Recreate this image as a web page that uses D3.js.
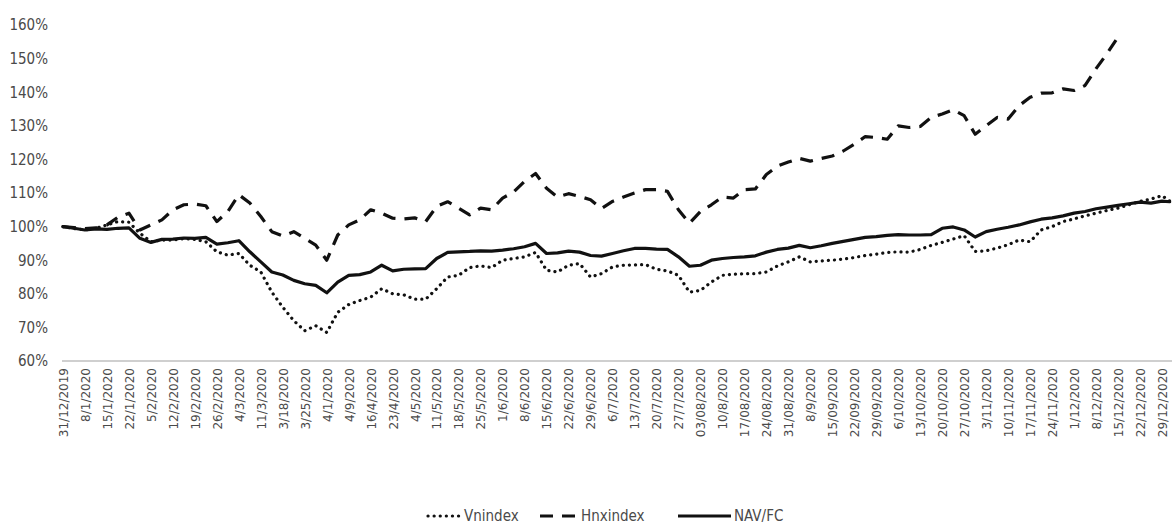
<!DOCTYPE html>
<html>
<head>
<meta charset="utf-8">
<script src="https://cdn.jsdelivr.net/npm/d3@7"></script>
<style>
  body { margin: 0; background: #fff; }
  svg { display: block; }
</style>
</head>
<body>
<svg id="chart" width="1172" height="528"></svg>
<script>
// weekly category labels on the x axis (one every 5 trading days)
let dateLabels = ["31/12/2019","8/1/2020","15/1/2020","22/1/2020","5/2/2020","12/2/2020","19/2/2020","26/2/2020",
  "4/3/2020","11/3/2020","3/18/2020","3/25/2020","4/1/2020","4/9/2020","16/4/2020","23/4/2020","4/5/2020",
  "11/5/2020","18/5/2020","25/5/2020","1/6/2020","8/6/2020","15/6/2020","22/6/2020","29/6/2020","6/7/2020",
  "13/7/2020","20/7/2020","27/7/2020","03/08/2020","10/8/2020","17/08/2020","24/08/2020","31/08/2020","8/9/2020",
  "15/09/2020","22/09/2020","29/09/2020","6/10/2020","13/10/2020","20/10/2020","27/10/2020","3/11/2020",
  "10/11/2020","17/11/2020","24/11/2020","1/12/2020","8/12/2020","15/12/2020","22/12/2020","29/12/2020"];

let yTicks = [60,70,80,90,100,110,120,130,140,150,160];

// values in %, read every half week (0.5 label step), last point is the final session
let vnindex = [100,99.4,99,99.5,100.5,101.5,101.3,98,95.5,96,
  96,96.4,96.2,95.5,92.5,91.5,92,88.5,86.5,80.5,
  76,72,69,70.5,68.5,74.5,76.8,78,79,81.5,
  80,79.7,78.4,78.4,81.5,85,85.5,87.8,88.3,87.8,
  90,90.5,91,92.3,87,86.5,88.5,89,85,86,
  88,88.5,88.6,88.7,87.3,86.8,85.5,80.5,81,83.5,
  85.5,85.8,86,86,86.5,88.3,89.5,91,89.5,89.8,
  90,90.3,90.8,91.4,91.8,92.3,92.5,92.4,93.2,94.4,
  95.3,96.3,97.3,92.6,92.8,93.6,94.6,96,95.5,99,
  100,101.5,102.3,103.2,104,104.8,105.5,106.5,107.5,108.2,
  109.2,107.6];

let hnxindex = [100,99.7,99.4,99.6,100.5,102.8,104,99,100.5,102,
  105,106.5,106.7,106.2,101.5,104.5,109.5,107,103,98.5,
  97.2,98.5,96.5,94.5,90,97.5,100.5,102,105,104,
  102.5,102.3,102.6,101.5,106,107.4,105.5,103.5,105.5,105,
  108.5,110.3,113.5,115.8,111.4,108.8,109.8,109,108,105.4,
  107.5,108.8,110,111,111,110.5,105,101,104.5,106.5,
  108.8,108.5,111,111.2,115.5,118,119.2,120.3,119.5,120.3,
  121,122.5,124.5,126.8,126.5,126,130,129.5,129.8,132.5,
  133.5,134.8,133,127.5,130,132.5,132,136,138.5,139.7,
  139.8,141,140.5,142,147,151.5,156.4];

let navfc = [100,99.5,99,99.3,99.2,99.5,99.6,96.5,95.3,96.2,
  96.3,96.6,96.5,96.8,94.8,95.2,95.8,92.5,89.5,86.5,
  85.6,84,83,82.5,80.3,83.5,85.5,85.7,86.5,88.5,
  86.8,87.3,87.4,87.5,90.5,92.3,92.5,92.6,92.8,92.7,
  93,93.4,94,95,92,92.2,92.7,92.4,91.4,91.2,
  92,92.8,93.5,93.5,93.3,93.2,91,88.2,88.5,90,
  90.5,90.8,91,91.3,92.4,93.2,93.6,94.4,93.7,94.3,
  95,95.6,96.2,96.8,97,97.4,97.6,97.5,97.5,97.6,
  99.5,99.9,99,96.9,98.5,99.2,99.8,100.5,101.4,102.2,
  102.6,103.2,104,104.5,105.3,105.8,106.3,106.8,107.3,107,
  107.6,107.4];

let seriesNames = ["Vnindex","Hnxindex","NAV/FC"];

let svg = d3.select("#chart");

let x = d3.scaleLinear().domain([0, dateLabels.length - 1]).range([63, 1162]);
let y = d3.scaleLinear().domain([60, 160]).range([361, 25]);

// position of point k in label units; the final session sits just after the last label
let posOf = (k) => Math.min(k * 0.5, 50.35);

// y axis labels only
let yAxis = svg.append("g")
  .attr("transform", "translate(48,0)")
  .call(d3.axisLeft(y).tickValues(yTicks).tickSize(0).tickPadding(0).tickFormat(d => d + "%"));
yAxis.select(".domain").remove();
yAxis.selectAll("text")
  .style("font-family", "'Liberation Sans Narrow','DejaVu Sans Condensed',sans-serif")
  .style("font-size", "15px")
  .style("fill", "#4a4a4a");

// bottom axis line
svg.append("line")
  .attr("x1", 62).attr("x2", 1172)
  .attr("y1", y(60)).attr("y2", y(60))
  .attr("stroke", "#cfcfcf").attr("stroke-width", 2);

let xAxis = svg.append("g")
  .attr("transform", "translate(0," + y(60) + ")")
  .call(d3.axisBottom(x).tickValues(d3.range(dateLabels.length)).tickSize(0).tickFormat(i => dateLabels[i]));
xAxis.select(".domain").remove();
xAxis.selectAll("text")
  .attr("transform", "rotate(-90)")
  .attr("text-anchor", "end")
  .attr("x", -7)
  .attr("y", 0)
  .attr("dy", "0.36em")
  .style("font-family", "'DejaVu Sans',sans-serif")
  .style("font-size", "12px")
  .style("fill", "#4a4a4a");

let line = d3.line()
  .x((d, k) => x(posOf(k)))
  .y(d => y(d));

let styles = [
  { data: vnindex, dash: "0.1 6", cap: "round" },
  { data: hnxindex, dash: "13 9", cap: "butt" },
  { data: navfc, dash: null, cap: "round" }
];

styles.forEach(s => {
  svg.append("path")
    .datum(s.data)
    .attr("d", line)
    .attr("fill", "none")
    .attr("stroke", "#111")
    .attr("stroke-width", 3.2)
    .attr("stroke-linejoin", "round")
    .attr("stroke-linecap", s.cap)
    .attr("stroke-dasharray", s.dash);
});

// legend
let legendItems = [
  { name: seriesNames[0], x0: 428, x1: 461, dash: "0.1 6", cap: "round" },
  { name: seriesNames[1], x0: 540, x1: 578, dash: "13 9", cap: "butt" },
  { name: seriesNames[2], x0: 678, x1: 731, dash: null, cap: "butt" }
];
let legend = svg.append("g");
legendItems.forEach(it => {
  legend.append("line")
    .attr("x1", it.x0).attr("x2", it.x1)
    .attr("y1", 516).attr("y2", 516)
    .attr("stroke", "#111").attr("stroke-width", 3.2)
    .attr("stroke-linecap", it.cap)
    .attr("stroke-dasharray", it.dash);
  legend.append("text")
    .attr("x", it.x1 + 3).attr("y", 521)
    .text(it.name)
    .style("font-family", "'Liberation Sans Narrow','DejaVu Sans Condensed',sans-serif")
    .style("font-size", "15px")
    .style("fill", "#4a4a4a");
});
</script>
</body>
</html>
